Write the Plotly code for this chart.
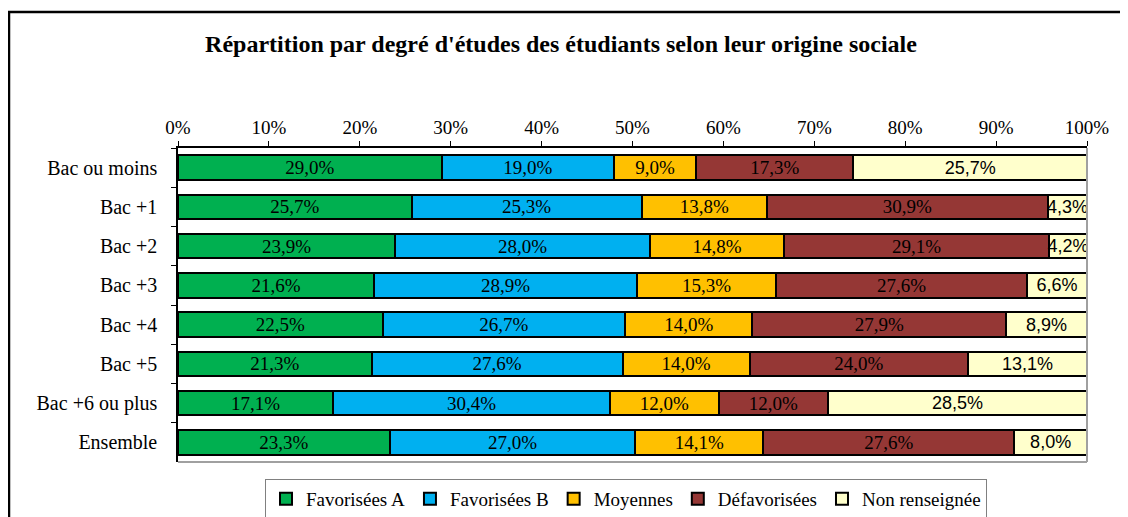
import plotly.graph_objects as go

categories = ['Bac ou moins', 'Bac +1', 'Bac +2', 'Bac +3', 'Bac +4',
              'Bac +5', 'Bac +6 ou plus', 'Ensemble']
series_names = ['Favorisées A', 'Favorisées B', 'Moyennes',
                'Défavorisées', 'Non renseignée']
fav_a = [29.0, 25.7, 23.9, 21.6, 22.5, 21.3, 17.1, 23.3]
fav_b = [19.0, 25.3, 28.0, 28.9, 26.7, 27.6, 30.4, 27.0]
moyennes = [9.0, 13.8, 14.8, 15.3, 14.0, 14.0, 12.0, 14.1]
defav = [17.3, 30.9, 29.1, 27.6, 27.9, 24.0, 12.0, 27.6]
non_rens = [25.7, 4.3, 4.2, 6.6, 8.9, 13.1, 28.5, 8.0]
tick_vals = [0, 10, 20, 30, 40, 50, 60, 70, 80, 90, 100]
tick_text = [f"{v}%" for v in tick_vals]

colors = ['#00B050', '#00B0F0', '#FFC000', '#953735', '#FFFFCC']
label_fonts = [('Liberation Serif', 19)] * 4 + [('Liberation Sans', 18)]

# page has an 8px body margin, so work in screen pixels and shift
OFF = 8
W, H = 1128 - OFF, 517 - OFF
L, R, T, B = 178 - OFF, 1128 - 1087, 148 - OFF, 517 - 462
PW, PH = W - L - R, H - T - B


def px(x):
    return (x - OFF - L) / PW


def py(y):
    return (H - B - (y - OFF)) / PH


fig = go.Figure()
for name, vals, col, (fam, fs) in zip(series_names,
                                      [fav_a, fav_b, moyennes, defav, non_rens],
                                      colors, label_fonts):
    fig.add_trace(go.Bar(
        y=categories, x=vals, name=name, orientation='h',
        marker=dict(color=col, line=dict(color='black', width=2)),
        text=[f"{v:.1f}%".replace('.', ',') for v in vals],
        textposition='inside', insidetextanchor='middle',
        textfont=dict(family=fam, size=fs, color='black'),
        constraintext='none', hoverinfo='skip'))

# outer frame
fig.add_shape(type='rect', xref='paper', yref='paper',
              x0=px(9), x1=px(1140), y0=py(540), y1=py(12),
              line=dict(color='black', width=2.5), layer='below')
# grey right/bottom edges of plot area
fig.add_shape(type='line', xref='paper', yref='paper', x0=1, x1=1, y0=0, y1=1,
              line=dict(color='#A0A0A0', width=2))
fig.add_shape(type='line', xref='paper', yref='paper', x0=0, x1=1, y0=0, y1=0,
              line=dict(color='#A0A0A0', width=2))

fig.update_layout(
    width=W, height=H,
    barmode='stack', bargap=0.38,
    plot_bgcolor='white', paper_bgcolor='white',
    margin=dict(l=L, r=R, t=T, b=B, autoexpand=False),
    font=dict(family='Liberation Serif', size=19, color='black'),
    title=dict(text="<b>Répartition par degré d'études des étudiants selon leur origine sociale</b>",
               xref='container', x=(561 - OFF) / W, xanchor='center',
               y=1 - (44 - OFF) / H, yanchor='middle',
               font=dict(size=24, family='Liberation Serif')),
    legend=dict(orientation='h', x=px(626), xanchor='center', traceorder='normal',
                y=py(479), yanchor='top', bordercolor='#808080', borderwidth=1,
                font=dict(size=19), itemwidth=30),
)
fig.update_xaxes(side='top', range=[0, 100], tickvals=tick_vals, ticktext=tick_text,
                 showgrid=False, zeroline=False, showline=True, linecolor='black',
                 linewidth=1.5, ticks='outside', ticklen=5, tickcolor='black',
                 tickfont=dict(size=19))
fig.update_yaxes(autorange='reversed', showgrid=False, showline=True,
                 linecolor='black', linewidth=1.5, ticks='outside', ticklen=5,
                 tickcolor='black', tickson='boundaries', ticklabelstandoff=15,
                 tickfont=dict(size=20))

fig.write_html("out.html")
